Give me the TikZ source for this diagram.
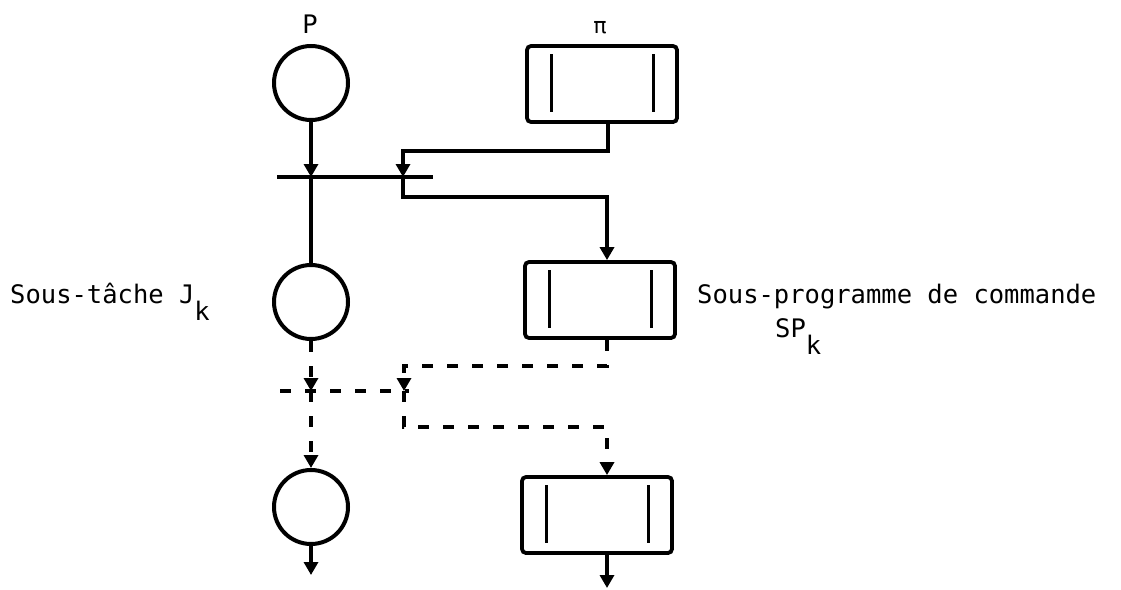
\documentclass[tikz,border=0pt]{standalone}
\usepackage{fontspec}
\newfontfamily\plotfont{DejaVu Sans Mono}
\usetikzlibrary{arrows.meta,calc}
\begin{document}
\begin{tikzpicture}[x=1pt,y=-1pt,
  place/.style={circle,draw,line width=4pt,minimum size=74pt,inner sep=0pt},
  block/.style={draw,line width=3.8pt,rounded corners=4pt,minimum width=150pt,minimum height=76pt,inner sep=0pt,
    path picture={
      \draw[line width=3pt,sharp corners] ($(path picture bounding box.north west)+(24,8)$) -- ($(path picture bounding box.south west)+(24,-10)$);
      \draw[line width=3pt,sharp corners] ($(path picture bounding box.north east)+(-24,8)$) -- ($(path picture bounding box.south east)+(-24,-10)$);
    }},
  ln/.style={line width=3.6pt},
  dl/.style={line width=3.6pt,dash pattern=on 11pt off 14pt},
  arr/.style={-{Triangle[width=14pt,length=13pt]}},
  lab/.style={font=\plotfont\fontsize{25.5}{30}\selectfont,inner sep=0pt,anchor=base west}]
\useasboundingbox (0,0) rectangle (1121,589);
% places
\node[place] (P1) at (311,83) {};
\node[place] (J) at (311,302) {};
\node[place] (C3) at (311,507) {};
% blocks
\node[block] (Pi) at (602,84) {};
\node[block] (SP) at (600,300) {};
\node[block] (B3) at (597,515) {};
% labels
\node[lab,anchor=base] (labP) at (310,33) {P};
\node[lab,anchor=base,font=\plotfont\fontsize{22}{26}\selectfont] (labPi) at (600,33) {π};
\node[lab] (labJ) at (10,303) {Sous-tâche J\raisebox{-17pt}{k}};
\node[lab] (labSPa) at (697,303) {Sous-programme de commande};
\node[lab] (labSPb) at (775,337) {SP\raisebox{-17pt}{k}};
% transition 1
\coordinate (b1l) at (277,177);
\coordinate (b1r) at (433,177);
\coordinate (t1a) at (311,177);
\coordinate (t1b) at (403,177);
\draw[ln] (b1l) -- (b1r);
\draw[ln,arr] (P1.south) -- (t1a);
\draw[ln] (t1a) -- (J.north);
\draw[ln,arr] ([xshift=6pt]Pi.south) -- ++(0,27) -| (t1b);
\draw[ln,arr] (t1b) -- ++(0,20) -| ([xshift=7pt]SP.north);
% transition 2 (dashed)
\coordinate (b2l) at (280,391);
\coordinate (b2r) at (409,391);
\coordinate (t2a) at (311,391);
\coordinate (t2b) at (404,391);
\draw[dl] (b2l) -- (b2r);
\draw[dl,arr] (J.south) -- (t2a);
\draw[dl,arr] (t2a) -- (C3.north);
\draw[dl,arr] ([xshift=7pt]SP.south) -- ++(0,26) -| (t2b);
\draw[dl,arr] (t2b) -- ++(0,36) -| ([xshift=10pt]B3.north);
% outputs
\coordinate (e1) at (311,575);
\coordinate (e2) at (607,588);
\draw[ln,arr] (C3.south) -- (e1);
\draw[ln,arr] ([xshift=10pt]B3.south) -- (e2);
\end{tikzpicture}
\end{document}
